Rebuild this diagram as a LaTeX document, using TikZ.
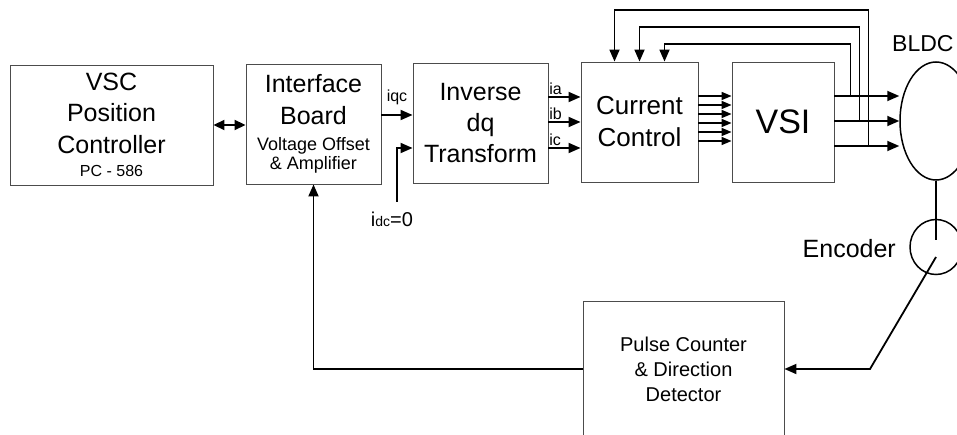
\documentclass[tikz,border=0pt]{standalone}
\usepackage{fontspec}
\setmainfont{Liberation Sans}
\usetikzlibrary{arrows.meta,shapes.geometric,calc}
\begin{document}
\begin{tikzpicture}[x=1pt,y=-1pt,
  box/.style={draw=black!70, line width=0.9pt, rectangle, inner sep=0pt, align=center},
  conn/.style={line width=1.8pt},
  arr/.style={conn, -{Triangle[length=12pt,width=10pt]}},
  sarr/.style={line width=1.5pt, -{Triangle[length=10pt,width=8pt]}},
  lbl/.style={inner sep=0pt, font=\fontsize{16}{18}\selectfont},
  shp/.style={draw, line width=1.5pt, ellipse, inner sep=0pt}
]
\useasboundingbox (0,0) rectangle (957,435);
\clip (0,0) rectangle (957,435);

% blocks
\node[box, minimum width=203pt, minimum height=120pt, font=\fontsize{25}{31.5}\selectfont] (vsc) at (111.5,125)
  {VSC\\Position\\Controller\\[-8pt]{\fontsize{16}{19}\selectfont PC - 586}};
\node[box, minimum width=135pt, minimum height=120pt, font=\fontsize{25}{31.5}\selectfont] (iface) at (313.5,124)
  {Interface\\Board\\[-5.5pt]{\fontsize{18}{20}\selectfont Voltage Offset}\\[-12.5pt]{\fontsize{18}{20}\selectfont \& Amplifier}};
\node[box, minimum width=135pt, minimum height=120pt, font=\fontsize{25}{31}\selectfont] (inv) at (480.5,123)
  {Inverse\\dq\\Transform};
\node[box, minimum width=117pt, minimum height=120pt, font=\fontsize{26}{32}\selectfont] (cur) at (639.5,122)
  {Current\\Control};
\node[box, minimum width=102pt, minimum height=120pt, font=\fontsize{34}{40}\selectfont] (vsi) at (783,122)
  {VSI};
\node[box, minimum width=201pt, minimum height=136pt, font=\fontsize{20}{25}\selectfont] (pulse) at (683.5,369)
  {Pulse Counter\\\& Direction\\Detector};

% motor and encoder
\node[shp, minimum width=72pt, minimum height=118pt] (motor) at (936,121) {};
\node[anchor=base west, inner sep=0pt, font=\fontsize{23}{27}\selectfont] (bldc) at (892,52) {BLDC};
\node[shp, minimum width=52pt, minimum height=55pt] (enc) at (936,247) {};
\node[anchor=base east, inner sep=0pt, font=\fontsize{25}{30}\selectfont] (enclbl) at (896,258) {Encoder};

% VSC <-> interface
\draw[conn, {Triangle[length=11pt,width=10pt]}-{Triangle[length=11pt,width=10pt]}] (vsc.east) -- (vsc.east -| iface.west);

% iqc
\draw[arr] ([yshift=9pt]iface.east) -- ([yshift=9pt]iface.east -| inv.west)
  node[midway, above=9pt, lbl] (iqc) {iqc};

% idc = 0
\node[anchor=base, inner sep=0pt, font=\fontsize{20}{22}\selectfont] (idc) at (392,227)
  {i{\fontsize{14}{16}\selectfont dc}=0};
\coordinate (idcs) at (397,202);
\draw[arr] (idcs) |- ([yshift=-25pt]inv.west);

% ia ib ic
\draw[arr] ([yshift=26pt]inv.east) -- ([yshift=26pt]inv.east -| cur.west)
  node[pos=0, anchor=south west, lbl, yshift=1pt] (ia) {ia};
\draw[arr] ([yshift=1pt]inv.east) -- ([yshift=1pt]inv.east -| cur.west)
  node[pos=0, anchor=south west, lbl, yshift=1pt] (ib) {ib};
\draw[arr] ([yshift=-25pt]inv.east) -- ([yshift=-25pt]inv.east -| cur.west)
  node[pos=0, anchor=south west, lbl, yshift=1pt] (ic) {ic};

% six gate signals
\foreach \k in {0,...,5}
  \draw[sarr] ([yshift={26pt-9pt*\k}]cur.east) -- ([yshift={26pt-9pt*\k}]cur.east -| vsi.west);

% VSI outputs
\coordinate (o1) at ([yshift=26pt]vsi.east);
\coordinate (o2) at ([yshift=1pt]vsi.east);
\coordinate (o3) at ([yshift=-24pt]vsi.east);
\draw[arr] (o1) -- (o1 -| motor.west);
\draw[arr] (o2) -- (o2 -| motor.west);
\draw[arr] (o3) -- (o3 -| motor.west);

% current feedback
\draw[arr] ([xshift=16pt]o1) -- ++(0,-52) -| ([xshift=25pt]cur.north);
\draw[arr] ([xshift=25pt]o2) -- ++(0,-94) -| (cur.north);
\draw[arr] ([xshift=34pt]o3) -- ++(0,-136) -| ([xshift=-25pt]cur.north);

% motor -> encoder -> pulse counter -> interface
\draw[conn] (motor.south) -- ([yshift=7pt]enc.center);
\coordinate (bend) at (870,369);
\draw[arr] ([yshift=-10pt]enc.center) -- (bend) -- (bend -| pulse.east);
\draw[arr] (pulse.west) -| (iface.south);
\end{tikzpicture}
\end{document}
